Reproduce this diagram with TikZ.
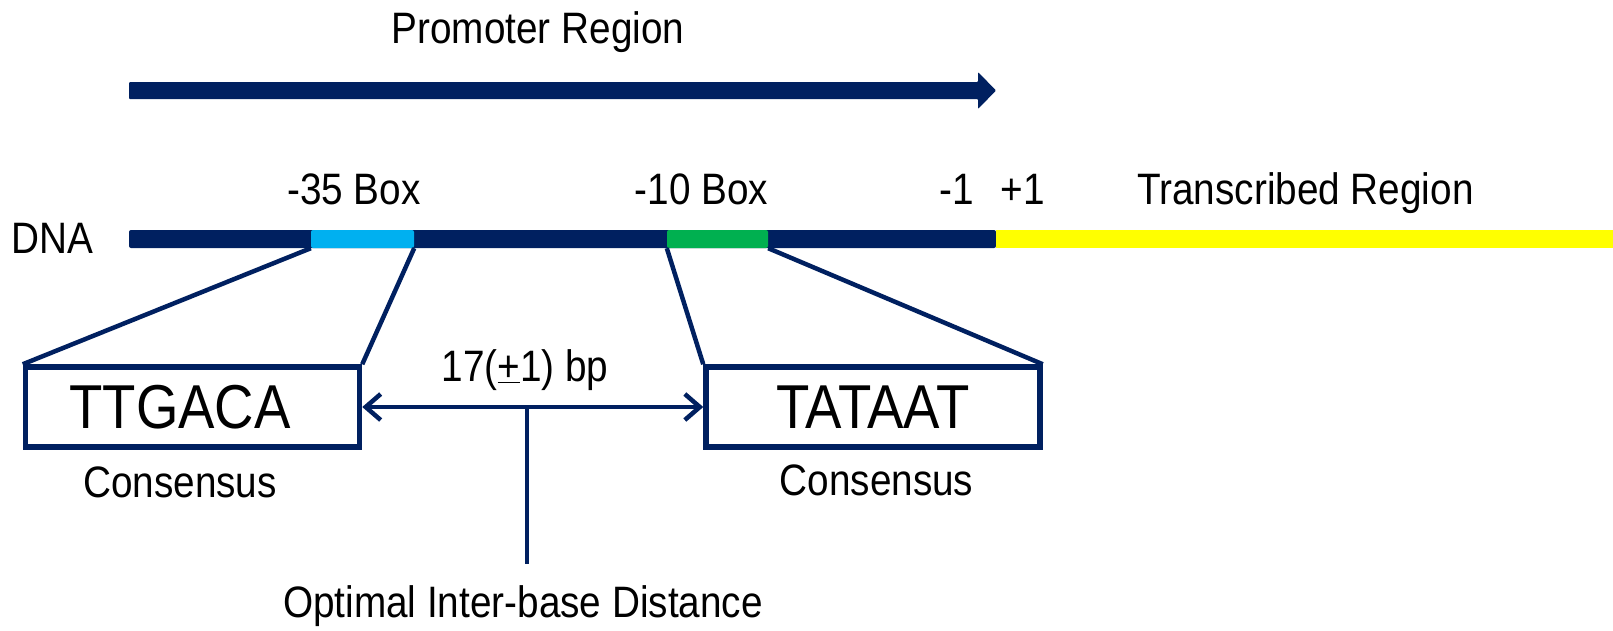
\documentclass[tikz,border=0pt]{standalone}
\usepackage{fontspec}
\setmainfont[FakeStretch=0.88]{Liberation Sans}
\usetikzlibrary{arrows.meta}
\definecolor{navy}{HTML}{002060}
\definecolor{lblue}{HTML}{00B0F0}
\definecolor{lgreen}{HTML}{00B050}
\definecolor{yel}{HTML}{FFFF00}
\begin{document}
\begin{tikzpicture}[x=1pt,y=-1pt,
  txt/.style={anchor=base, inner sep=0pt, font=\fontsize{44}{50}\selectfont},
  bar/.style={rectangle, inner sep=0pt, minimum height=18pt, draw=none},
  seqbox/.style={rectangle, draw=navy, line width=5.5pt, fill=white, inner sep=0pt,
    minimum width=334pt, minimum height=80pt, font=\fontsize{62}{66}\selectfont},
  conn/.style={draw=navy, line width=4.5pt},
  dimarrow/.style={conn, {Straight Barb[length=15pt,width=26pt]}-{Straight Barb[length=15pt,width=26pt]}}
]
\useasboundingbox (0,0) rectangle (1613,630);
% promoter arrow
\fill[navy, rounded corners=1pt] (129,82) -- (978,82) -- (978,72) -- (996,90.5) -- (978,109) -- (978,99) -- (129,99) -- cycle;
\node[txt] (prom) at (538,43) {Promoter Region};
% DNA bar
\node[bar, fill=navy, minimum width=867pt, rounded corners=2pt] (dna) at (562.5,239) {};
\node[bar, fill=yel, minimum width=617pt] (trans) at (1304.5,239) {};
\node[bar, fill=lblue, minimum width=103pt, rounded corners=2pt] (s35) at (362.5,239) {};
\node[bar, fill=lgreen, minimum width=101pt, rounded corners=2pt] (s10) at (717.5,239) {};
\node[txt] (dnal) at (52.5,253) {DNA};
\node[txt] (l35) at (354,204) {-35 Box};
\node[txt] (l10) at (701.5,204) {-10 Box};
\node[txt] (lm1) at (957,204) {-1};
\node[txt] (lp1) at (1022.5,204) {+1};
\node[txt] (ltr) at (1305.5,204) {Transcribed Region};
% consensus boxes
\node[seqbox] (box1) at (192.5,407) {};
\node[font=\fontsize{62}{66}\selectfont, inner sep=0pt] (seq1) at (180,407.5) {TTGACA};
\node[seqbox] (box2) at (873,407) {TATAAT};
\draw[conn] (s35.south west) -- (box1.north west);
\draw[conn] (s35.south east) -- (box1.north east);
\draw[conn] (s10.south west) -- (box2.north west);
\draw[conn] (s10.south east) -- (box2.north east);
\node[txt] (c1) at (180,497) {Consensus};
\node[txt] (c2) at (876.5,495) {Consensus};
% distance
\draw[dimarrow] (box1.east) -- (box2.west);
\node[txt] (dist) at (525,381) {17(\underline{+}1) bp};
\coordinate (mid) at (527,407);
\coordinate (vend) at (527,564);
\draw[conn] (mid) -- (vend);
\node[txt] (opt) at (523,617) {Optimal Inter-base Distance};
\end{tikzpicture}
\end{document}
